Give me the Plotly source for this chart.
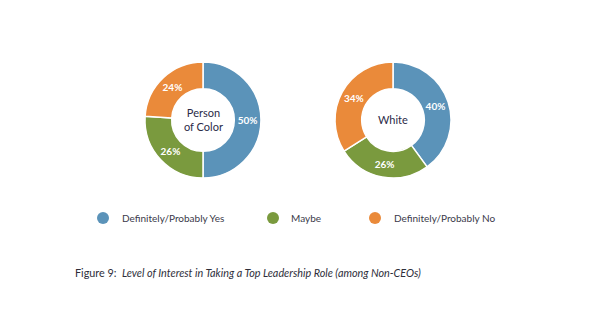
import plotly.graph_objects as go

categories = ["Definitely/Probably Yes", "Maybe", "Definitely/Probably No"]
poc_values = [50, 26, 24]
white_values = [40, 26, 34]
group_labels = ["Person<br>of Color", "White"]
colors = ["#5b93b9", "#7a9a3e", "#ea8a3a"]

W, H = 596, 335

def px_x(x):
    return x / W

def px_y(y):
    return 1 - y / H

fig = go.Figure()
centers = [(203, 120), (393, 120)]
R = 58
for vals, (cx, cy), lab in zip([poc_values, white_values], centers, group_labels):
    fig.add_trace(go.Pie(
        labels=categories, values=vals, hole=0.54, sort=False,
        direction="clockwise", rotation=0,
        marker=dict(colors=colors, line=dict(color="white", width=1.5)),
        texttemplate="%{value}%", textposition="inside",
        insidetextorientation="horizontal",
        textfont=dict(family="Lato", size=10, color="white", weight="bold"),
        domain=dict(x=[px_x(cx - R), px_x(cx + R)], y=[px_y(cy + R), px_y(cy - R)]),
        showlegend=False, hoverinfo="label+value",
    ))
    fig.add_annotation(x=px_x(cx), y=px_y(cy), xref="paper", yref="paper",
                       text=lab, showarrow=False,
                       font=dict(family="Lato", size=11, color="#2b2b48"))

# legend
leg_circles = [103, 273, 375]
leg_text_x = [120, 289, 392]
ly = 218
for c, tx, name, col in zip(leg_circles, leg_text_x, categories, colors):
    fig.add_shape(type="circle", xref="paper", yref="paper",
                  x0=px_x(c - 6), x1=px_x(c + 6), y0=px_y(ly + 6), y1=px_y(ly - 6),
                  fillcolor=col, line=dict(width=0))
    fig.add_annotation(x=px_x(tx), y=px_y(ly), xref="paper", yref="paper",
                       xanchor="left", text=name, showarrow=False,
                       font=dict(family="Lato", size=10, color="#3a3a4a"))

fig.add_annotation(x=px_x(73), y=px_y(272), xref="paper", yref="paper",
                   xanchor="left", yanchor="middle", showarrow=False,
                   text="Figure 9:  <i>Level of Interest in Taking a Top Leadership Role (among Non-CEOs)</i>",
                   font=dict(family="Lato", size=10.8, color="#2e2e3a"))

fig.update_layout(width=W, height=H, margin=dict(l=0, r=0, t=0, b=0),
                  paper_bgcolor="white", plot_bgcolor="white")
fig.write_html("out.html")
